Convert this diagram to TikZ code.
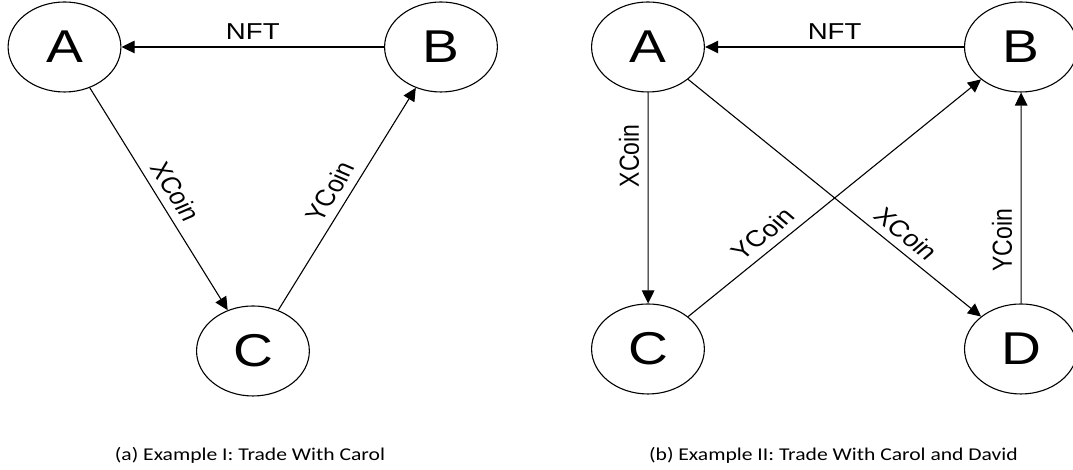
\documentclass[tikz,border=0pt]{standalone}
\usepackage{fontspec}
\newfontfamily\partyfont{Liberation Sans}
\newfontfamily\subcapfont{Carlito}
\usetikzlibrary{shapes.geometric,arrows.meta}

\def\stretch{1.2}

\begin{document}
\begin{tikzpicture}[x=1pt, y=1pt, xscale=\stretch, transform shape,
  party/.style={draw, ellipse, line width=1.1pt, minimum width=94pt, minimum height=90pt,
    inner sep=0pt, font=\partyfont\fontsize{46}{46}\selectfont},
  flow/.style={line width=1.1pt, -{Triangle[length=13pt,width=12.5pt]}},
  flowlabel/.style={inner sep=7pt, font=\partyfont\fontsize{23}{23}\selectfont},
  subcap/.style={anchor=base, font=\subcapfont\fontsize{18}{18}\selectfont}]
  \useasboundingbox (0,0) rectangle (894.2,470);

  % (a)
  \node[party] (la) at (53.75,423) {A};
  \node[party] (lb) at (367.5,423) {B};
  \node[party] (lc) at (210.8,119) {C};
  \draw[flow] (lb) -- node[flowlabel, above] {NFT} (la);
  \draw[flow] (la) -- node[flowlabel, above, rotate=-62.7] {XCoin} (lc);
  \draw[flow] (lc) -- node[flowlabel, above, rotate=62.7] {YCoin} (lb);
  \node[subcap] (capa) at (208.3,9.5) {(a) Example I: Trade With Carol};

  % (b)
  \node[party] (ra) at (540,423) {A};
  \node[party] (rb) at (850.8,423) {B};
  \node[party] (rc) at (540,121) {C};
  \node[party] (rd) at (850.8,121) {D};
  \draw[flow] (rb) -- node[flowlabel, above] {NFT} (ra);
  \draw[flow] (ra) -- node[flowlabel, above, rotate=90, pos=.3] {XCoin} (rc);
  \draw[flow] (ra) -- node[flowlabel, above, rotate=-44.2, pos=.7] {XCoin} (rd);
  \draw[flow] (rc) -- node[flowlabel, above, rotate=44.2, pos=.3] {YCoin} (rb);
  \draw[flow] (rd) -- node[flowlabel, above, rotate=90, pos=.3] {YCoin} (rb);
  \node[subcap] (capb) at (694.6,9.5) {(b) Example II: Trade With Carol and David};
\end{tikzpicture}
\end{document}
